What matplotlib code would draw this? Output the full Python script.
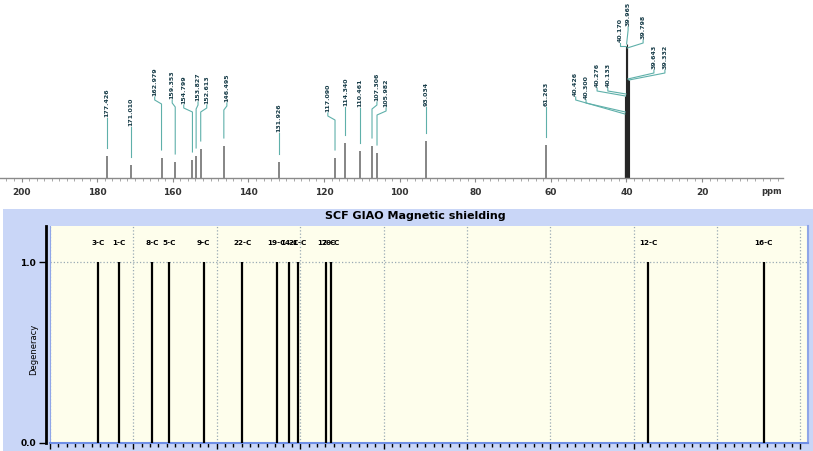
import matplotlib
matplotlib.use("agg")
import matplotlib.pyplot as plt
from matplotlib.patches import Rectangle
from matplotlib.ticker import MultipleLocator

# experimental 13C spectrum (ppm, peak height)
peak_ppm = [177.426, 171.010, 162.979, 159.353, 154.799, 153.827, 152.613, 146.495,
            131.926, 117.090, 114.340, 110.461, 107.306, 105.982, 93.034, 61.263]
peak_height = [22, 13, 20, 16, 18, 22, 29, 32, 16, 20, 35, 27, 32, 25, 37, 33]

# DMSO-d6 solvent multiplet
solvent_ppm = [40.426, 40.300, 40.276, 40.133, 40.170, 39.965, 39.798, 39.643, 39.332]
solvent_height = [64, 66, 82, 84, 132, 134, 130, 99, 98]

ppm_ticks = [200, 180, 160, 140, 120, 100, 80, 60, 40, 20]

# calculated GIAO shielding lines
calc_labels = ["3-C", "1-C", "8-C", "5-C", "9-C", "22-C", "19-C", "14-C", "21-C",
               "17-C", "20-C", "12-C", "16-C"]
calc_shield = [11.5, 16.6, 24.5, 28.5, 36.9, 46.1, 54.4, 57.4, 59.5, 66.2, 67.3, 143.5, 171.2]
calc_degen = [1.0] * len(calc_labels)

# label placement (ppm shift of label from peak, label foot height)
label_shift = [0, 0, 1.8, 0.8, 2.3, -0.5, -1.6, -0.8, 0, 1.9, 0, 0, -1.3, -2.4, 0, 0]
label_base = [60, 51, 81, 78, 73, 76, 73, 75, 45, 65, 71, 70, 76, 70, 71, 71]
solv_shift = [13.0, 10.4, 7.5, 4.8, 1.5, -0.4, -4.2, -6.9, -9.5]
solv_base = [81, 78, 90, 90, 135, 151, 138, 108, 108]

W, H = 813, 451
fig = plt.figure(figsize=(W / 100, H / 100), dpi=100)
fig.patch.set_facecolor("white")

# ---------------- top: measured spectrum ----------------
ax = fig.add_axes([0, 1 - 178 / H, 783 / W, 178 / H])
ax.set_facecolor("none")
ax.set_xlim(205.7, -1.4)
ax.set_ylim(0, 178)
for s in ["top", "left", "right"]:
    ax.spines[s].set_visible(False)
ax.spines["bottom"].set_color("#8a8a8a")
ax.spines["bottom"].set_linewidth(1.0)
ax.set_yticks([])
ax.set_xticks(ppm_ticks)
ax.set_xticklabels([str(t) for t in ppm_ticks], fontsize=6.5, fontweight="bold", color="#333333")
ax.xaxis.set_minor_locator(MultipleLocator(2))
ax.tick_params(axis="x", which="major", length=3, color="#8a8a8a", pad=4)
ax.tick_params(axis="x", which="minor", length=2, color="#9a9a9a")
ax.text(1.5, -14, "ppm", ha="center", va="center", fontsize=6, fontweight="bold", color="#333333")

lab_kw = dict(rotation=90, ha="center", va="bottom", fontsize=4.5, fontweight="bold",
              color="#173c48", family=["Liberation Sans Narrow", "DejaVu Sans"])
con_col = "#5fb0aa"

ax.vlines(peak_ppm, 0, peak_height, color="#7c7c7c", lw=1.3)
for p, h, dx, b in zip(peak_ppm, peak_height, label_shift, label_base):
    lx = p + dx
    if dx == 0:
        ax.plot([p, p], [b, h + 8], color=con_col, lw=0.8)
    else:
        ax.plot([lx, lx, p, p], [b, b - 3, b - 7, h + 8], color=con_col, lw=0.8)
    ax.text(lx, b + 1, f"{p:.3f}", **lab_kw)

ax.vlines(solvent_ppm, 0, solvent_height, color="#262626", lw=0.8)
for p, h, dx, b in zip(solvent_ppm, solvent_height, solv_shift, solv_base):
    lx = p + dx
    ax.plot([lx, lx, p], [b, b - 3, h], color=con_col, lw=0.8)
    ax.text(lx, b + 1, f"{p:.3f}", **lab_kw)

# ---------------- bottom: calculated shielding ----------------
panel = Rectangle((3 / W, 0), 810 / W, (H - 209) / H, transform=fig.transFigure,
                  facecolor="#c9d6f7", edgecolor="none", zorder=-5)
fig.add_artist(panel)
fig.text(415 / W, 1 - 216 / H, "SCF GIAO Magnetic shielding", ha="center", va="center",
         fontsize=8, fontweight="bold", color="black")

ax2 = fig.add_axes([50 / W, (H - 443) / H, 758 / W, 217 / H], zorder=2)
ax2.set_facecolor("#fefeec")
ax2.set_xlim(0, 181.8)
ax2.set_ylim(0, 1.2)
ax2.spines["top"].set_visible(False)
ax2.spines["right"].set_color("#8fa6e8")
ax2.spines["right"].set_linewidth(1.5)
ax2.spines["bottom"].set_color("#6f8fe6")
ax2.spines["bottom"].set_linewidth(1.5)
ax2.spines["left"].set_color("black")
ax2.spines["left"].set_linewidth(2)
ax2.spines["left"].set_position(("outward", 3))
ax2.axvline(0, color="#8fa6e8", lw=1.5)

ax2.xaxis.set_major_locator(MultipleLocator(20))
ax2.xaxis.set_minor_locator(MultipleLocator(2))
ax2.tick_params(axis="x", which="major", length=4, width=1, color="black", labelbottom=False)
ax2.tick_params(axis="x", which="minor", length=3, width=1, color="black")
ax2.set_yticks([0, 1.0])
ax2.set_yticklabels(["0.0", "1.0"], fontsize=6.5, fontweight="bold")
ax2.tick_params(axis="y", length=5, width=1, color="black", pad=2)
ax2.set_ylabel("Degeneracy", fontsize=6)
ax2.yaxis.set_label_coords(-0.016, 0.43)
ax2.grid(True, which="major", ls=":", color="#9aaab4", lw=0.9)

ax2.vlines(calc_shield, 0, calc_degen, color="black", lw=1.6, zorder=3)
for name, x, d in zip(calc_labels, calc_shield, calc_degen):
    ax2.text(x, d + 0.105, name, ha="center", va="center", fontsize=5.2, fontweight="bold")

fig.savefig("out.png", dpi=100)
